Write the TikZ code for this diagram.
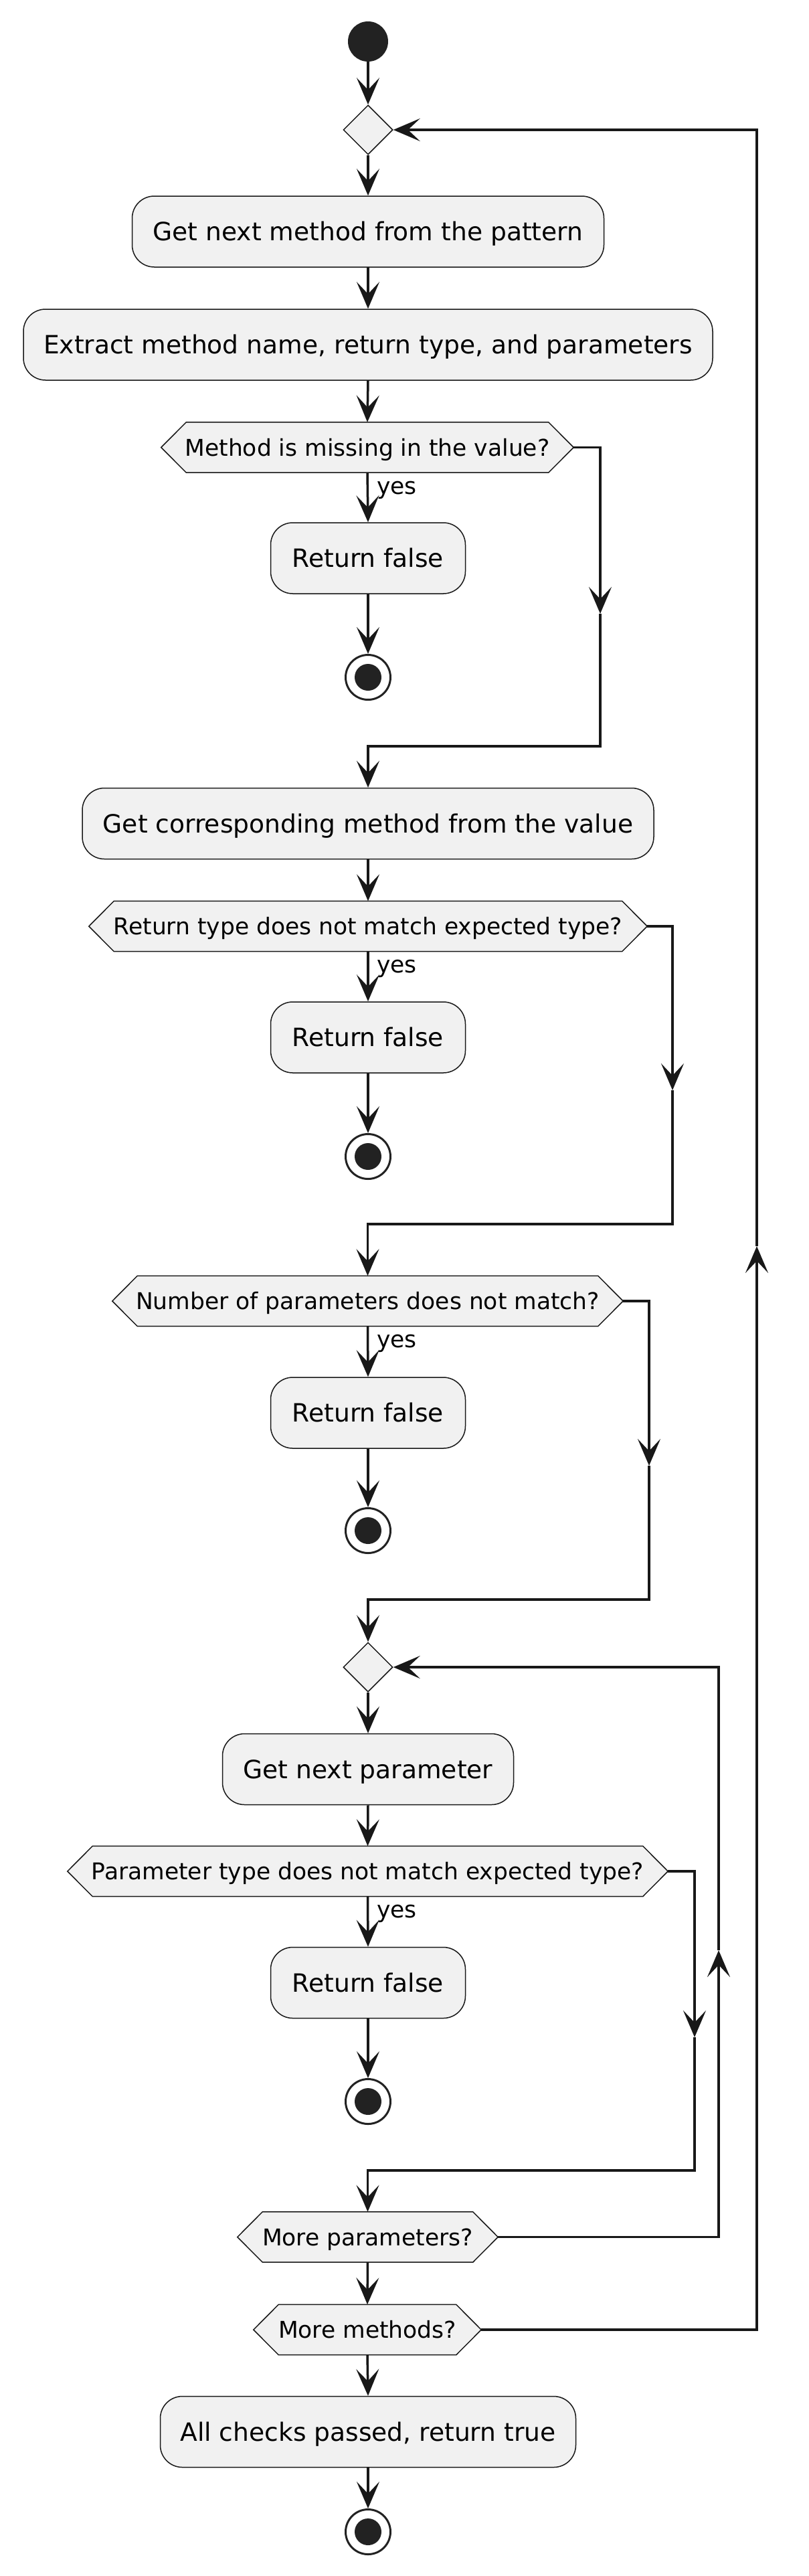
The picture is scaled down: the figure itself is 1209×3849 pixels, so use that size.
\documentclass[tikz,border=0pt]{standalone}
\usepackage{fontspec}
\setmainfont{DejaVu Sans}
\usetikzlibrary{arrows.meta,shapes.geometric,backgrounds}
\definecolor{boxfill}{HTML}{F1F1F1}
\definecolor{ink}{HTML}{181818}
\definecolor{dot}{HTML}{222222}
\begin{document}
\begin{tikzpicture}[x=1pt,y=-1pt,
  act/.style={draw=ink, fill=boxfill, line width=1.5pt, rounded corners=33pt,
    inner sep=0pt, minimum height=106pt, text height=27.4pt, text depth=0pt,
    font=\fontsize{37.6}{44}\selectfont},
  hexbox/.style={inner sep=0pt, minimum height=75pt, text height=25.1pt, text depth=0pt,
    font=\fontsize{34.5}{40}\selectfont},
  hexline/.style={draw=ink, fill=boxfill, line width=1.5pt},
  merge/.style={diamond, aspect=1, draw=ink, fill=boxfill, line width=1.5pt,
    inner sep=0pt, minimum width=74pt, minimum height=74pt},
  startdot/.style={circle, fill=dot, inner sep=0pt, minimum size=60pt},
  stopdot/.style={circle, draw=dot, fill=white, line width=3pt, inner sep=0pt,
    minimum size=67pt, path picture={\fill[dot] (path picture bounding box.center) circle (20pt);}},
  wire/.style={draw=ink, line width=3.5pt},
  flow/.style={wire, -{Stealth[length=40pt,width=34pt,inset=18pt]}},
  yeslabel/.style={anchor=base west, inner sep=0pt, font=\fontsize{34.5}{40}\selectfont}
]
\useasboundingbox (0,0) rectangle (1209,3849);

% nodes
\node[startdot] (start) at (550,62) {};
\node[merge] (d1) at (550,194) {};
\node[act, minimum width=705pt] (b1) at (550,346) {Get next method from the pattern};
\node[act, minimum width=1030pt] (b2) at (550,515) {Extract method name, return type, and parameters};
\node[hexbox, minimum width=616pt] (h1) at (549,668.5) {Method is missing in the value?};
\node[act, minimum width=291pt] (rf1) at (550,834) {Return false};
\node[stopdot] (s1) at (550,1012) {};
\node[act, minimum width=854pt] (b3) at (550,1230.5) {Get corresponding method from the value};
\node[hexbox, minimum width=834pt] (h2) at (550,1384) {Return type does not match expected type?};
\node[act, minimum width=291pt] (rf2) at (550,1550) {Return false};
\node[stopdot] (s2) at (550,1728) {};
\node[hexbox, minimum width=763pt] (h3) at (549.5,1944) {Number of parameters does not match?};
\node[act, minimum width=291pt] (rf3) at (550,2111) {Return false};
\node[stopdot] (s3) at (550,2287) {};
\node[merge] (d2) at (550,2491) {};
\node[act, minimum width=435pt] (b4) at (550,2643.5) {Get next parameter};
\node[hexbox, minimum width=897pt] (h4) at (549.5,2796) {Parameter type does not match expected type?};
\node[act, minimum width=291pt] (rf4) at (550,2962.5) {Return false};
\node[stopdot] (s4) at (550,3140) {};
\node[hexbox, minimum width=389pt] (h5) at (549.5,3342.5) {More parameters?};
\node[hexbox, minimum width=340pt] (h6) at (549,3481) {More methods?};
\node[act, minimum width=621pt] (fin) at (550,3633.5) {All checks passed, return true};
\node[stopdot] (s5) at (550,3783) {};

% hexagon outlines behind the texts
\begin{scope}[on background layer]
\foreach \h in {h1,h2,h3,h4,h5,h6}{
  \path[hexline] ([xshift=37.5pt]\h.north west) -- ([xshift=-37.5pt]\h.north east) -- (\h.east)
    -- ([xshift=-37.5pt]\h.south east) -- ([xshift=37.5pt]\h.south west) -- (\h.west) -- cycle;
}
\end{scope}

% yes labels
\node[yeslabel] (y1) at (563,738) {yes};
\node[yeslabel] (y2) at (563,1453) {yes};
\node[yeslabel] (y3) at (563,2013) {yes};
\node[yeslabel] (y4) at (563,2865) {yes};

% helper coordinates
\coordinate (m1) at (897,917);   \coordinate (t1) at (897,1115);
\coordinate (m2) at (1005,1629); \coordinate (t2) at (1005,1829);
\coordinate (m3) at (970,2190);  \coordinate (t3) at (970,2390);
\coordinate (m4) at (1038,3044); \coordinate (t4) at (1038,3243);
\coordinate (mi) at (1074,2914);
\coordinate (mo) at (1131,1862);

% main flow
\draw[flow] (start) -- (d1.north);
\draw[flow] (d1.south) -- (b1.north);
\draw[flow] (b1.south) -- (b2.north);
\draw[flow] (b2.south) -- (h1.north);
\draw[flow] (h1.south) -- (rf1.north);
\draw[flow] (rf1.south) -- (s1.north);
\draw[flow] (h1.east) -| (m1);
\draw[flow] (m1) -- (t1) -| (b3.north);
\draw[flow] (b3.south) -- (h2.north);
\draw[flow] (h2.south) -- (rf2.north);
\draw[flow] (rf2.south) -- (s2.north);
\draw[flow] (h2.east) -| (m2);
\draw[flow] (m2) -- (t2) -| (h3.north);
\draw[flow] (h3.south) -- (rf3.north);
\draw[flow] (rf3.south) -- (s3.north);
\draw[flow] (h3.east) -| (m3);
\draw[flow] (m3) -- (t3) -| (d2.north);
\draw[flow] (d2.south) -- (b4.north);
\draw[flow] (b4.south) -- (h4.north);
\draw[flow] (h4.south) -- (rf4.north);
\draw[flow] (rf4.south) -- (s4.north);
\draw[flow] (h4.east) -| (m4);
\draw[flow] (m4) -- (t4) -| (h5.north);
\draw[flow] (h5.south) -- (h6.north);
\draw[flow] (h6.south) -- (fin.north);
\draw[flow] (fin.south) -- (s5.north);
% loops
\draw[flow] (h5.east) -| (mi);
\draw[flow] (mi) |- (d2.east);
\draw[flow] (h6.east) -| (mo);
\draw[flow] (mo) |- (d1.east);
\end{tikzpicture}
\end{document}
